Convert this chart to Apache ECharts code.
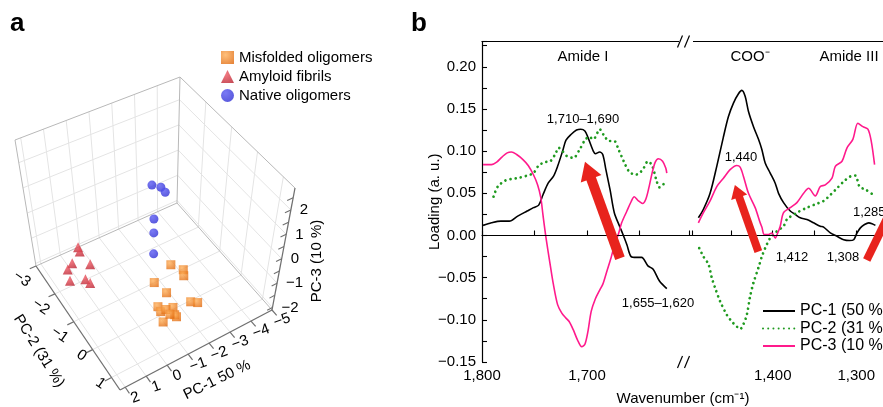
<!DOCTYPE html>
<html><head><meta charset="utf-8">
<script src="https://cdn.jsdelivr.net/npm/echarts@6/dist/echarts.min.js"></script>
<style>html,body{margin:0;padding:0;background:#fff}#c{width:883px;height:407px}</style>
</head><body><div id="c"></div>
<script>
// ================= Panel a : PCA scores (PC-1, PC-2, PC-3) =================
const misfolded = [[-1.15,0.31,0.25],[-1.74,0.31,-0.2],[-1.78,0.31,-0.46],[-0.41,0.31,-0.16],[-1.0,0.31,-0.82],
  [-0.61,0.31,-1.22],[-0.75,0.31,-1.48],[-1.34,0.31,-1.56],[-1.0,0.31,-1.5],[-0.93,0.79,-1.17],[-1.66,0.79,-0.96],
  [-2.0,0.79,-1.14],[-0.39,0.79,-1.23],[-1.02,0.79,-1.29],[-0.7,0.79,-1.05]];
const fibrils = [[0.87,-2.05,-0.8],[0.81,-2.05,-0.99],[1.22,-2.05,-1.31],[1.46,-2.05,-1.47],[0.37,-2.05,-1.66],
  [1.78,-1.58,-1.28],[1.05,-1.58,-1.5],[0.84,-1.58,-1.73]];
const nativeOlig = [[-1.72,-1.11,1.72],[-2.12,-1.11,1.48],[-2.32,-1.11,1.2],[-1.82,-1.11,0.32],[-1.82,-1.11,-0.24],[-1.82,-1.11,-1.08]];
const pc1Range = [-5, 2.25], pc2Range = [-3, 1.45], pc3Range = [-2.1, 2.9];
const pc1Ticks = [-5,-4,-3,-2,-1,0,1,2];
const pc2Ticks = [-3,-2,-1,0,1];
const pc3Ticks = [-2,-1,0,1,2];
const pc3MinorTicks = [-2,-1.5,-1,-0.5,0,0.5,1,1.5,2,2.5];
const groupNames = ['Misfolded oligomers','Amyloid fibrils','Native oligomers'];

// ================= Panel b : loadings =================
const pc1Amide = [[1799,0.012],[1791,0.015],[1782,0.017],[1774,0.017],[1766,0.023],[1757,0.029],[1751,0.033],[1746,0.036],
  [1742,0.048],[1737,0.062],[1732,0.070],[1728,0.082],[1723,0.101],[1720,0.113],[1715,0.120],[1710,0.125],[1706,0.126],
  [1702,0.124],[1699,0.116],[1694,0.100],[1692,0.097],[1688,0.099],[1685,0.096],[1682,0.078],[1678,0.054],[1674,0.027],
  [1669,0.011],[1666,0.002],[1662,-0.011],[1658,-0.025],[1653,-0.026],[1648,-0.026],[1642,-0.036],[1637,-0.040],
  [1631,-0.054],[1624,-0.063]];
const pc2Amide = [[1789,0.046],[1785,0.058],[1778,0.065],[1772,0.067],[1766,0.068],[1757,0.071],[1751,0.074],[1746,0.083],
  [1740,0.087],[1735,0.088],[1730,0.097],[1727,0.104],[1724,0.101],[1719,0.094],[1713,0.092],[1707,0.102],[1702,0.113],
  [1698,0.117],[1694,0.114],[1690,0.122],[1688,0.126],[1684,0.119],[1679,0.112],[1674,0.112],[1670,0.102],[1665,0.088],
  [1660,0.076],[1654,0.072],[1650,0.074],[1646,0.080],[1642,0.088],[1638,0.083],[1634,0.066],[1631,0.057],[1627,0.061],[1624,0.065]];
const pc3Amide = [[1799,0.084],[1791,0.084],[1786,0.087],[1781,0.093],[1776,0.098],[1772,0.099],[1767,0.096],[1761,0.090],
  [1756,0.083],[1751,0.072],[1747,0.060],[1744,0.045],[1742,0.025],[1739,-0.003],[1735,-0.035],[1732,-0.058],[1728,-0.082],
  [1724,-0.092],[1720,-0.098],[1717,-0.102],[1713,-0.112],[1709,-0.124],[1705,-0.132],[1702,-0.129],[1699,-0.113],
  [1696,-0.090],[1692,-0.075],[1688,-0.065],[1685,-0.058],[1681,-0.042],[1677,-0.026],[1674,-0.012],[1670,0.002],
  [1667,0.015],[1662,0.029],[1658,0.040],[1655,0.046],[1651,0.041],[1647,0.038],[1644,0.043],[1641,0.057],[1638,0.074],
  [1635,0.087],[1632,0.091],[1628,0.088],[1625,0.080],[1624,0.074]];
const pc1Coo = [[1489,0.021],[1483,0.031],[1475,0.050],[1467,0.082],[1459,0.117],[1453,0.141],[1447,0.157],[1441,0.168],
  [1437,0.172],[1433,0.165],[1429,0.147],[1423,0.129],[1417,0.114],[1413,0.102],[1409,0.086],[1403,0.074],[1397,0.062],
  [1393,0.050],[1387,0.039],[1379,0.029],[1373,0.025],[1367,0.021],[1359,0.019],[1351,0.015],[1343,0.011],[1339,0.010],
  [1331,0.003],[1323,-0.001],[1315,-0.005],[1308,-0.006],[1303,-0.005],[1299,0.003],[1295,0.009],[1290,0.013],
  [1285,0.015],[1281,0.014],[1277,0.012]];
const pc2Coo = [[1488,-0.015],[1483,-0.025],[1477,-0.034],[1473,-0.050],[1469,-0.062],[1463,-0.078],[1455,-0.094],
  [1449,-0.102],[1443,-0.108],[1439,-0.111],[1435,-0.105],[1431,-0.094],[1427,-0.072],[1423,-0.056],[1417,-0.038],
  [1413,-0.025],[1409,-0.015],[1403,-0.003],[1395,0.005],[1387,0.011],[1383,0.019],[1371,0.027],[1359,0.033],
  [1349,0.037],[1339,0.041],[1331,0.048],[1323,0.056],[1315,0.064],[1307,0.070],[1301,0.071],[1296,0.058],[1288,0.054],[1278,0.047]];
const pc3Coo = [[1489,0.015],[1483,0.027],[1475,0.041],[1467,0.058],[1459,0.068],[1451,0.078],[1443,0.083],[1439,0.081],
  [1435,0.070],[1429,0.050],[1421,0.033],[1415,0.015],[1413,0.010],[1410,0.001],[1405,0.001],[1401,0.003],[1397,-0.003],
  [1394,0.003],[1391,0.011],[1387,0.027],[1379,0.033],[1371,0.039],[1363,0.050],[1357,0.056],[1349,0.047],[1343,0.058],
  [1337,0.060],[1329,0.068],[1325,0.082],[1317,0.088],[1311,0.104],[1304,0.114],[1298,0.133],[1292,0.129],[1286,0.126],
  [1282,0.112],[1278,0.084]];
const seriesNames = ['PC-1 (50 %)','PC-2 (31 %)','PC-3 (10 %)'];
// arrows: [tail, head] in (wavenumber, loading)
const arrowsAmide = [[[1668.6,-0.027],[1699.0,0.0774]]];
const arrowsCoo = [[[1417.2,-0.0192],[1442.7,0.0526]],[[1287.4,-0.029],[1251,0.0446]]];
const xLabelsAmide = [1800,1700];
const xLabelsCoo = [1400,1300];
const yLabelValues = [-0.15,-0.10,-0.05,0,0.05,0.10,0.15,0.20];

// ================= helpers =================
const FONT = '"Liberation Sans", Arial, Helvetica, sans-serif';
const boxFloor = [[36,266],[177,203],[272,310],[120,390]];
const boxTop = [[15,140],[180,77],[295,188],[119,267]];
function bil(q,u,v){const a=(1-u)*(1-v),b=u*(1-v),c=u*v,d=(1-u)*v;
  return [q[0][0]*a+q[1][0]*b+q[2][0]*c+q[3][0]*d, q[0][1]*a+q[1][1]*b+q[2][1]*c+q[3][1]*d];}
function proj(p1,p2,p3){
  const u=(pc1Range[1]-p1)/(pc1Range[1]-pc1Range[0]);
  const v=(p2-pc2Range[0])/(pc2Range[1]-pc2Range[0]);
  const w=(p3-pc3Range[0])/(pc3Range[1]-pc3Range[0]);
  const f=bil(boxFloor,u,v), t=bil(boxTop,u,v);
  return [f[0]+(t[0]-f[0])*w, f[1]+(t[1]-f[1])*w];
}
const fmtNum = v => (v<0?'\u2212':'')+Math.abs(v);
const decoLines=[], decoTexts=[];
const addLine=(a,b,color,width)=>decoLines.push({a,b,color,width});
const addText=(p,text,rot,align)=>decoTexts.push({p,text,rot:rot||0,align:align||'center'});
const P1f=pc1Range[1], P1b=pc1Range[0], P2b=pc2Range[0], P2f=pc2Range[1], Z0=pc3Range[0], Z1=pc3Range[1];
const GRIDC='#e4e4e4', EDGE='#b8b8b8', AX='#707070';
[-4,-3,-2,-1,0,1,2].forEach(t=>{addLine(proj(t,P2b,Z0),proj(t,P2f,Z0),GRIDC,1);addLine(proj(t,P2b,Z0),proj(t,P2b,Z1),GRIDC,1);});
[-2,-1,0,1].forEach(t=>{addLine(proj(P1f,t,Z0),proj(P1b,t,Z0),GRIDC,1);addLine(proj(P1b,t,Z0),proj(P1b,t,Z1),GRIDC,1);});
pc3Ticks.forEach(t=>{addLine(proj(P1f,P2b,t),proj(P1b,P2b,t),GRIDC,1);addLine(proj(P1b,P2b,t),proj(P1b,P2f,t),GRIDC,1);});
addLine(proj(P1f,P2b,Z0),proj(P1b,P2b,Z0),EDGE,1);
addLine(proj(P1b,P2b,Z0),proj(P1b,P2f,Z0),EDGE,1);
addLine(proj(P1f,P2b,Z0),proj(P1f,P2b,Z1),EDGE,1);
addLine(proj(P1b,P2b,Z0),proj(P1b,P2b,Z1),EDGE,1);
addLine(proj(P1f,P2b,Z1),proj(P1b,P2b,Z1),EDGE,1);
addLine(proj(P1b,P2b,Z1),proj(P1b,P2f,Z1),EDGE,1);
addLine(proj(P1f,P2b,Z0),proj(P1f,P2f,Z0),AX,1.3);
addLine(proj(P1f,P2f,Z0),proj(P1b,P2f,Z0),AX,1.3);
addLine(proj(P1b,P2f,Z0),proj(P1b,P2f,Z1),AX,1.3);
pc2Ticks.forEach(t=>{const p=proj(P1f,t,Z0);addLine(p,proj(P1f+0.32,t,Z0),AX,1.2);
  const o=t<0?[-14,13]:[-11,6]; addText([p[0]+o[0],p[1]+o[1]],fmtNum(t),-35);});
pc1Ticks.forEach(t=>{const p=proj(t,P2f,Z0);addLine(p,proj(t,P2f+0.22,Z0),AX,1.2);
  addText([p[0]+10,p[1]+10.5],fmtNum(t),20);});
pc3MinorTicks.forEach(t=>{addLine(proj(P1b,P2f,t),proj(P1b+0.25,P2f,t),AX,1.1);});
pc3Ticks.forEach(t=>{const p=proj(P1b,P2f,t);addText([p[0]+9,p[1]],fmtNum(t),0,'left');});
addText([39,351],'PC-2 (31 %)',-58);
addText([217,380],'PC-1 50 %',26);
addText([317,261],'PC-3 (10 %)',90);

const rg=(c0,c1)=>new echarts.graphic.RadialGradient(0.35,0.3,0.85,[{offset:0,color:c0},{offset:1,color:c1}]);
const markLineArrows=(list,width,size)=>({silent:true,symbol:['none','triangle'],symbolSize:size,label:{show:false},
  lineStyle:{color:'#e8231d',width:width,type:'solid',opacity:1},itemStyle:{color:'#e8231d'},emphasis:{disabled:true},
  data:list.map(a=>[{coord:a[0]},{coord:a[1]}])});
const zeroLine={silent:true,symbol:['none','none'],label:{show:false},lineStyle:{color:'#000',width:1,type:'solid'},
  emphasis:{disabled:true},data:[{yAxis:0}]};
const lineColors=['#000000','#1f9a1f','#ff1a8c'];
function curve(name,data,idx,ci,extra){
  const dotted=ci===1;
  return Object.assign({type:'line',name,data,xAxisIndex:idx,yAxisIndex:idx,showSymbol:false,symbol:'none',
    smooth:0.3,z:3,itemStyle:{color:lineColors[ci]},
    lineStyle:dotted?{color:lineColors[ci],width:2.7,type:[0.01,5.2],cap:'round'}:{color:lineColors[ci],width:1.6,type:'solid'},
    emphasis:{disabled:true}},extra||{});
}
const commonX={type:'value',inverse:true,interval:50,splitLine:{show:false},
  axisLine:{lineStyle:{color:'#000',width:1.2}},axisTick:{inside:true,length:5,lineStyle:{color:'#000',width:1.1}}};

const chart=echarts.init(document.getElementById('c'),null,{renderer:'canvas'});
chart.setOption({
  animation:false,
  textStyle:{fontFamily:FONT},
  grid:[{left:0,top:0,width:883,height:407,show:false,outerBoundsMode:'none',containLabel:false},
        {left:482,top:41.5,width:210,height:320.5,outerBoundsMode:'none',containLabel:false},
        {left:689.2,top:41.5,width:208.75,height:320.5,outerBoundsMode:'none',containLabel:false}],
  xAxis:[{gridIndex:0,type:'value',min:0,max:883,show:false},
    Object.assign({},commonX,{gridIndex:1,min:1600,max:1800,
      axisLabel:{fontSize:15,color:'#000',margin:6,fontFamily:FONT,
        formatter:v=>xLabelsAmide.indexOf(Math.round(v))>=0?String(Math.round(v)).replace(/\B(?=(\d{3})+(?!\d))/g,','):''}}),
    Object.assign({},commonX,{gridIndex:2,min:1250,max:1500,
      axisLabel:{fontSize:15,color:'#000',margin:6,fontFamily:FONT,
        formatter:v=>xLabelsCoo.indexOf(Math.round(v))>=0?String(Math.round(v)).replace(/\B(?=(\d{3})+(?!\d))/g,','):''}}),
    {gridIndex:1,type:'value',position:'top',inverse:true,min:1600,max:1800,axisLine:{lineStyle:{color:'#000',width:1.2}},
      axisTick:{show:false},axisLabel:{show:false},splitLine:{show:false}},
    {gridIndex:2,type:'value',position:'top',inverse:true,min:1250,max:1500,axisLine:{lineStyle:{color:'#000',width:1.2}},
      axisTick:{show:false},axisLabel:{show:false},splitLine:{show:false}}],
  yAxis:[{gridIndex:0,type:'value',min:0,max:407,inverse:true,show:false},
    {gridIndex:1,type:'value',min:-0.15,max:0.23,interval:0.025,splitLine:{show:false},
      axisLine:{show:true,lineStyle:{color:'#000',width:1.2}},axisTick:{show:true,inside:true,length:5,lineStyle:{color:'#000',width:1.1}},
      axisLabel:{fontSize:15,color:'#000',margin:6,fontFamily:FONT,
        formatter:v=>{const k=yLabelValues.find(y=>Math.abs(y-v)<1e-6);return k===undefined?'':(k<0?'\u2212':'')+Math.abs(k).toFixed(2);}},
      name:'Loading (a. u.)',nameLocation:'middle',nameGap:40,nameRotate:90,nameMoveOverlap:false,
      nameTextStyle:{fontSize:15,color:'#000',fontFamily:FONT}},
    {gridIndex:2,type:'value',min:-0.15,max:0.23,show:false}],
  legend:[
    {data:[{name:groupNames[0],icon:'rect'},{name:groupNames[1],icon:'triangle'},{name:groupNames[2],icon:'circle'}],
     orient:'vertical',left:221,top:50,padding:0,itemWidth:13,itemHeight:13,itemGap:4,selectedMode:false,
     textStyle:{fontSize:15,color:'#000',fontFamily:FONT}},
    {data:seriesNames,orient:'vertical',left:762,top:303,padding:0,itemWidth:32,itemHeight:14,itemGap:1.5,selectedMode:false,
     itemStyle:{opacity:0,borderWidth:0},
     textStyle:{fontSize:16,color:'#000',fontFamily:FONT}}],
  series:[
    {type:'custom',xAxisIndex:0,yAxisIndex:0,silent:true,z:1,
     data:decoLines.map(d=>d.a),
     renderItem:(params,api)=>{const d=decoLines[params.dataIndex];
       const p1=api.coord(d.a),p2=api.coord(d.b);
       return {type:'line',shape:{x1:p1[0],y1:p1[1],x2:p2[0],y2:p2[1]},style:{stroke:d.color,lineWidth:d.width}};}},
    {type:'custom',xAxisIndex:0,yAxisIndex:0,silent:true,z:2,
     data:decoTexts.map(d=>d.p),
     renderItem:(params,api)=>{const d=decoTexts[params.dataIndex];const p=api.coord(d.p);
       return {type:'text',x:p[0],y:p[1],rotation:d.rot*Math.PI/180,
         style:{text:d.text,fill:'#000',font:'15px '+FONT,align:d.align,verticalAlign:'middle'}};}},
    {type:'scatter',name:groupNames[0],xAxisIndex:0,yAxisIndex:0,symbol:'rect',symbolSize:9,z:4,
     itemStyle:{color:rg('#ffb05a','#e0680c')},data:misfolded.map(p=>proj(p[0],p[1],p[2]))},
    {type:'scatter',name:groupNames[1],xAxisIndex:0,yAxisIndex:0,symbol:'triangle',symbolSize:10,z:4,
     itemStyle:{color:rg('#f05a64','#b8202e')},data:fibrils.map(p=>proj(p[0],p[1],p[2]))},
    {type:'scatter',name:groupNames[2],xAxisIndex:0,yAxisIndex:0,symbol:'circle',symbolSize:9,z:4,
     itemStyle:{color:rg('#5858f2','#2a2ad0')},data:nativeOlig.map(p=>proj(p[0],p[1],p[2]))},
    curve(seriesNames[0],pc1Amide,1,0,{markLine:zeroLine}),
    curve(seriesNames[1],pc2Amide,1,1),
    curve(seriesNames[2],pc3Amide,1,2),
    curve(seriesNames[0],pc1Coo,2,0,{markLine:zeroLine}),
    curve(seriesNames[1],pc2Coo,2,1),
    curve(seriesNames[2],pc3Coo,2,2),
    {type:'line',name:'arrowsA',data:[],xAxisIndex:1,yAxisIndex:1,z:10,markLine:markLineArrows(arrowsAmide,10,[22,18])},
    {type:'line',name:'arrowsB',data:[],xAxisIndex:2,yAxisIndex:2,z:10,markLine:markLineArrows(arrowsCoo,8,[17,13])}
  ],
  graphic:{elements:[
    {type:'text',x:10,y:24,z:100,style:{text:'a',font:'bold 26px '+FONT,fill:'#000',align:'left',verticalAlign:'middle'}},
    {type:'text',x:411,y:24,z:100,style:{text:'b',font:'bold 26px '+FONT,fill:'#000',align:'left',verticalAlign:'middle'}},
    {type:'text',x:583,y:57,z:100,style:{text:'Amide I',font:'15px '+FONT,fill:'#000',align:'center',verticalAlign:'middle'}},
    {type:'text',x:750,y:57,z:100,style:{text:'COO\u207B',font:'15px '+FONT,fill:'#000',align:'center',verticalAlign:'middle'}},
    {type:'text',x:849,y:57,z:100,style:{text:'Amide III',font:'15px '+FONT,fill:'#000',align:'center',verticalAlign:'middle'}},
    {type:'text',x:583,y:119,z:100,style:{text:'1,710\u20131,690',font:'13px '+FONT,fill:'#000',align:'center',verticalAlign:'middle'}},
    {type:'text',x:658,y:303,z:100,style:{text:'1,655\u20131,620',font:'13px '+FONT,fill:'#000',align:'center',verticalAlign:'middle'}},
    {type:'text',x:741,y:157,z:100,style:{text:'1,440',font:'13px '+FONT,fill:'#000',align:'center',verticalAlign:'middle'}},
    {type:'text',x:792,y:257,z:100,style:{text:'1,412',font:'13px '+FONT,fill:'#000',align:'center',verticalAlign:'middle'}},
    {type:'text',x:843,y:257,z:100,style:{text:'1,308',font:'13px '+FONT,fill:'#000',align:'center',verticalAlign:'middle'}},
    {type:'text',x:853,y:212,z:100,style:{text:'1,285',font:'13px '+FONT,fill:'#000',align:'left',verticalAlign:'middle'}},
    {type:'text',x:683,y:399,z:100,style:{text:'Wavenumber (cm\u207B\u00B9)',font:'15px '+FONT,fill:'#000',align:'center',verticalAlign:'middle'}},
    {type:'rect',z:100,shape:{x:679,y:355,width:14,height:13},style:{fill:'#fff'}},
    {type:'rect',z:100,shape:{x:679,y:35,width:14,height:12},style:{fill:'#fff'}},
    {type:'line',z:101,shape:{x1:677.5,y1:368,x2:682.5,y2:356},style:{stroke:'#000',lineWidth:1.2}},
    {type:'line',z:101,shape:{x1:684.5,y1:368,x2:689.5,y2:356},style:{stroke:'#000',lineWidth:1.2}},
    {type:'line',z:101,shape:{x1:677.5,y1:47.5,x2:682.5,y2:35.5},style:{stroke:'#000',lineWidth:1.2}},
    {type:'line',z:101,shape:{x1:684.5,y1:47.5,x2:689.5,y2:35.5},style:{stroke:'#000',lineWidth:1.2}}
  ]}
});
</script></body></html>
